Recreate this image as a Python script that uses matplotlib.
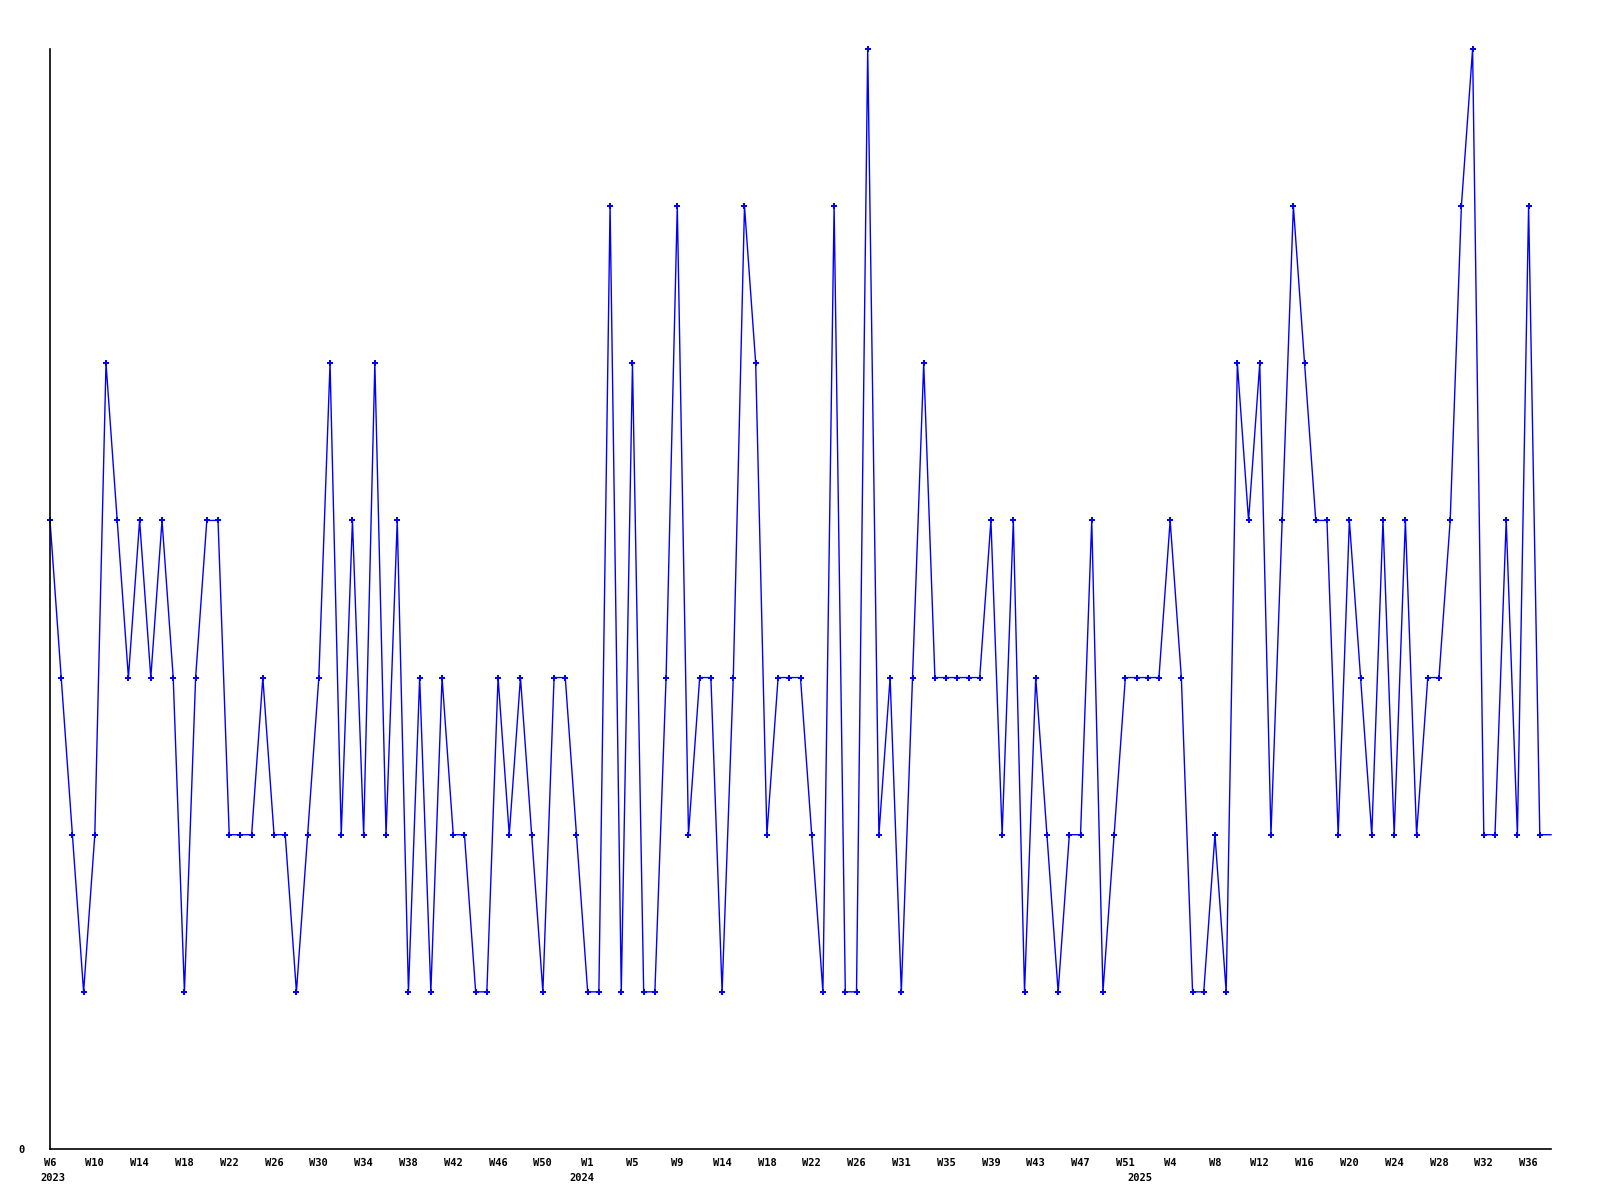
import matplotlib
matplotlib.use("Agg")
import matplotlib.pyplot as plt

values = [4, 3, 2, 1, 2, 5, 4, 3, 4, 3, 4, 3, 1, 3, 4, 4, 2, 2, 2, 3,
          2, 2, 1, 2, 3, 5, 2, 4, 2, 5, 2, 4, 1, 3, 1, 3, 2, 2, 1, 1,
          3, 2, 3, 2, 1, 3, 3, 2, 1, 1, 6, 1, 5, 1, 1, 3, 6, 2, 3, 3,
          1, 3, 6, 5, 2, 3, 3, 3, 2, 1, 6, 1, 1, 7, 2, 3, 1, 3, 5, 3,
          3, 3, 3, 3, 4, 2, 4, 1, 3, 2, 1, 2, 2, 4, 1, 2, 3, 3, 3, 3,
          4, 3, 1, 1, 2, 1, 5, 4, 5, 2, 4, 6, 5, 4, 4, 2, 4, 3, 2, 4,
          2, 4, 2, 3, 3, 4, 6, 7, 2, 2, 4, 2, 6, 2, 2]

tick_labels = ["W6", "W10", "W14", "W18", "W22", "W26", "W30", "W34", "W38",
               "W42", "W46", "W50", "W1", "W5", "W9", "W14", "W18", "W22",
               "W26", "W31", "W35", "W39", "W43", "W47", "W51", "W4", "W8",
               "W12", "W16", "W20", "W24", "W28", "W32", "W36"]
years = ["2023", "2024", "2025"]
year_idx = [0.3, 47.5, 97.3]

x = list(range(len(values)))

fig = plt.figure(figsize=(16, 12), dpi=100)
ax = fig.add_axes([50/1600, 1 - 1149/1200, 1501/1600, 1100/1200])

ax.plot(x, values, color=(0, 0, 1), lw=1.0, clip_on=False,
        marker='P', markersize=3.8, markeredgewidth=0,
        markevery=list(range(len(values) - 1)))

ax.set_xlim(0, len(values) - 1)
ax.set_ylim(0, 7)
for s in ("top", "right"):
    ax.spines[s].set_visible(False)
for s in ("left", "bottom"):
    ax.spines[s].set_linewidth(1.2)
    ax.spines[s].set_color("black")

font = dict(family="DejaVu Sans Mono", weight="bold", size=7.5)
ax.set_xticks(list(range(0, 4 * len(tick_labels), 4)))
ax.set_xticklabels(tick_labels, **font)
ax.tick_params(axis="x", length=0, pad=6.5)
ax.set_yticks([0])
ax.set_yticklabels(["0"], **font)
ax.tick_params(axis="y", length=0, pad=18)

for yl, xi in zip(years, year_idx):
    ax.annotate(yl, xy=(xi, 0), xycoords=("data", "axes fraction"),
                xytext=(0, -17.5), textcoords="offset points",
                ha="center", va="top", **font)

fig.savefig("out.png", dpi=100)
